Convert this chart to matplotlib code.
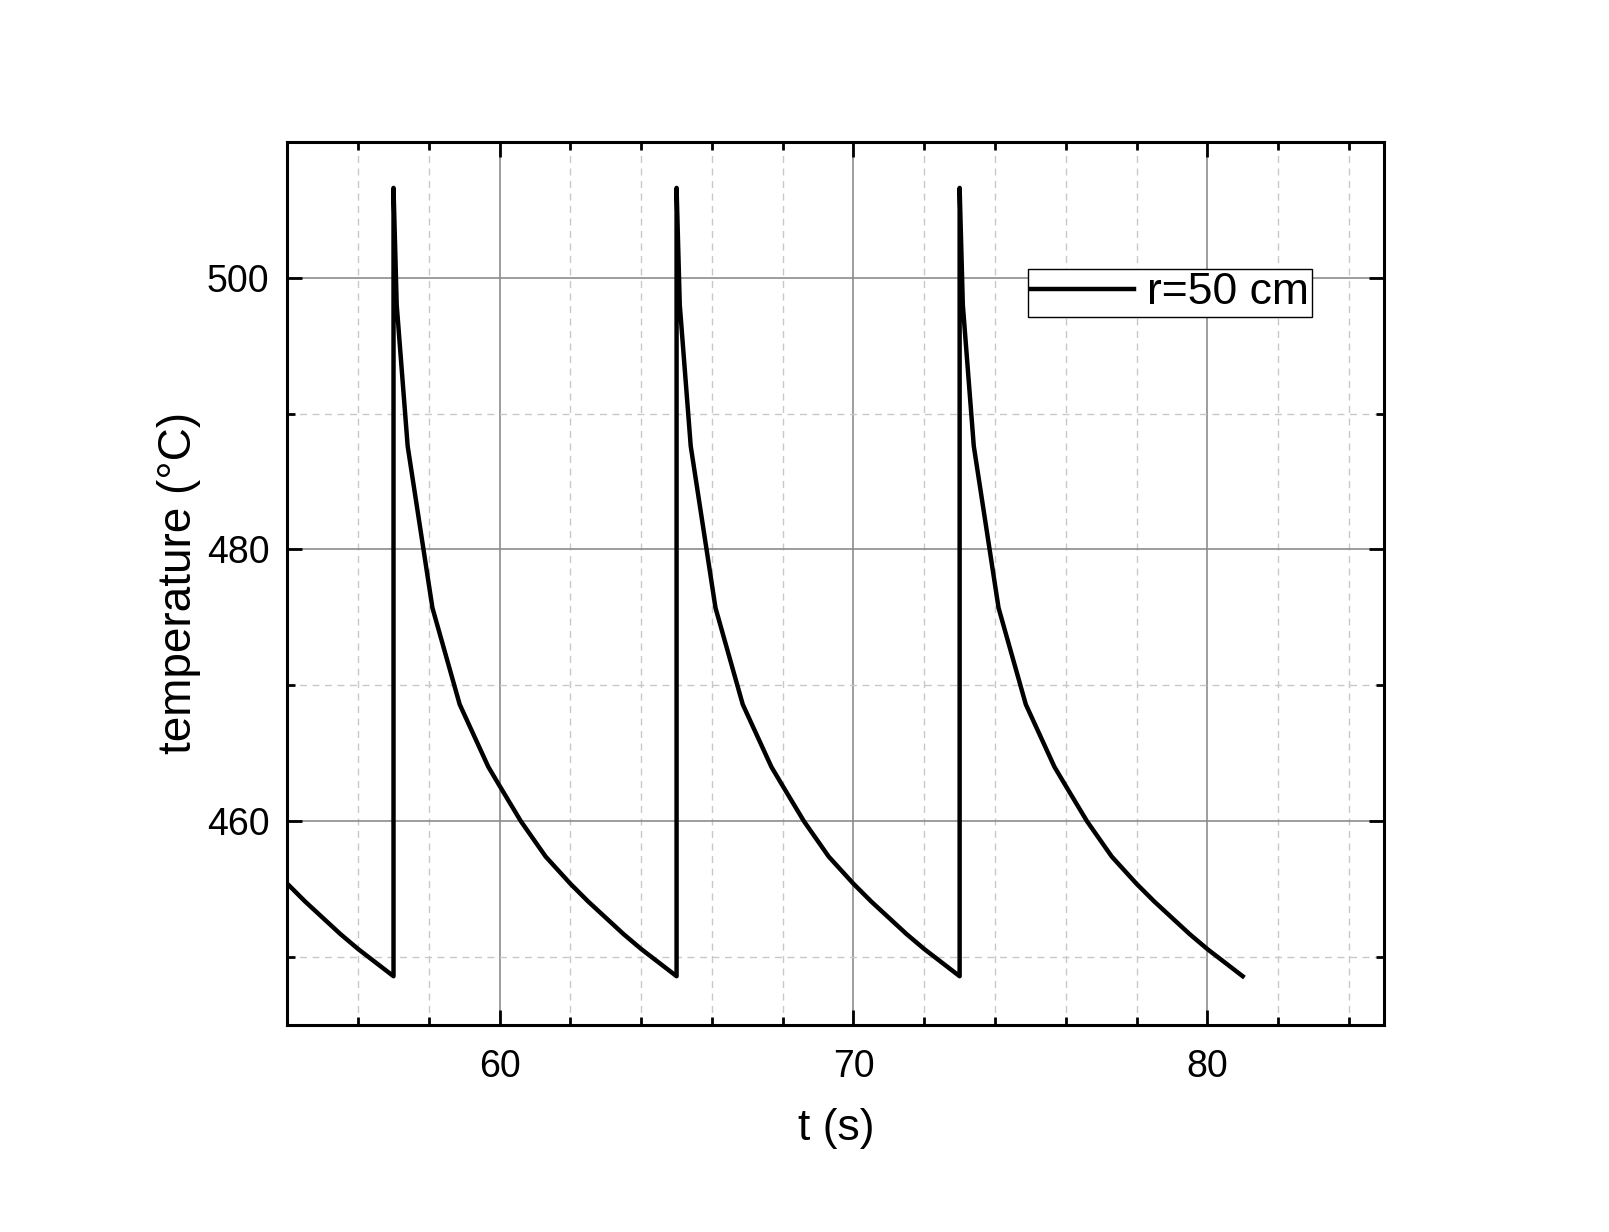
import matplotlib
matplotlib.use("Agg")
import matplotlib.pyplot as plt
from matplotlib.ticker import MultipleLocator

plt.rcParams['font.family'] = ['Liberation Sans', 'DejaVu Sans']

# time (s) and temperature (°C)
t = [54.0, 54.5, 55.0, 55.5, 56.0, 56.5, 57.0,
     57.0, 57.09, 57.4, 58.1, 58.87, 59.68, 60.0, 60.6, 61.3, 62.0, 62.5, 63.0, 63.5, 64.0, 64.5, 65.0,
     65.0, 65.09, 65.4, 66.1, 66.87, 67.68, 68.0, 68.6, 69.3, 70.0, 70.5, 71.0, 71.5, 72.0, 72.5, 73.0,
     73.0, 73.09, 73.4, 74.1, 74.87, 75.68, 76.0, 76.6, 77.3, 78.0, 78.5, 79.0, 79.5, 80.0, 80.5, 81.0]
temp = [455.4, 454.1, 452.9, 451.7, 450.6, 449.6, 448.6,
        506.6, 498.0, 487.6, 475.7, 468.6, 464.0, 462.6, 460.0, 457.4, 455.4, 454.1, 452.9, 451.7, 450.6, 449.6, 448.6,
        506.6, 498.0, 487.6, 475.7, 468.6, 464.0, 462.6, 460.0, 457.4, 455.4, 454.1, 452.9, 451.7, 450.6, 449.6, 448.6,
        506.6, 498.0, 487.6, 475.7, 468.6, 464.0, 462.6, 460.0, 457.4, 455.4, 454.1, 452.9, 451.7, 450.6, 449.6, 448.6]
series_label = "r=50 cm"
x_ticks = [60, 70, 80]
y_ticks = [460, 480, 500]

fig = plt.figure(figsize=(16.09, 12.32), dpi=100)
ax = fig.add_axes([0.1786, 0.1679, 0.8603 - 0.1786, 0.885 - 0.1679])

ax.plot(t, temp, color='black', lw=3.2, label=series_label, zorder=3)

ax.set_xlim(54, 85)
ax.set_ylim(445, 510)
ax.set_xticks(x_ticks)
ax.set_yticks(y_ticks)
ax.xaxis.set_minor_locator(MultipleLocator(2))
ax.yaxis.set_minor_locator(MultipleLocator(10))

ax.grid(True, which='major', color='#8c8c8c', lw=1.2, ls='-')
ax.grid(True, which='minor', color='#c8c8c8', lw=1.0, ls=(0, (5, 4)))
ax.set_axisbelow(True)

for s in ax.spines.values():
    s.set_linewidth(2.2)
    s.set_color('black')

ax.tick_params(which='both', direction='in', top=True, right=True, width=2.0, color='black')
ax.tick_params(which='major', length=11)
ax.tick_params(which='minor', length=6)
ax.tick_params(axis='x', which='major', labelsize=27, pad=17)
ax.tick_params(axis='y', which='major', labelsize=27, pad=13)

ax.set_xlabel('t (s)', fontsize=32, labelpad=17)
ax.set_ylabel('temperature (°C)', fontsize=33, labelpad=4)

leg = ax.legend(loc='upper left', bbox_to_anchor=(0.675, 0.856), fontsize=32,
                frameon=True, fancybox=False, edgecolor='black', framealpha=1,
                borderpad=0.08, handlelength=2.3, handletextpad=0.3, borderaxespad=0)
leg.get_frame().set_linewidth(1.0)

fig.savefig('out.png', dpi=100)
